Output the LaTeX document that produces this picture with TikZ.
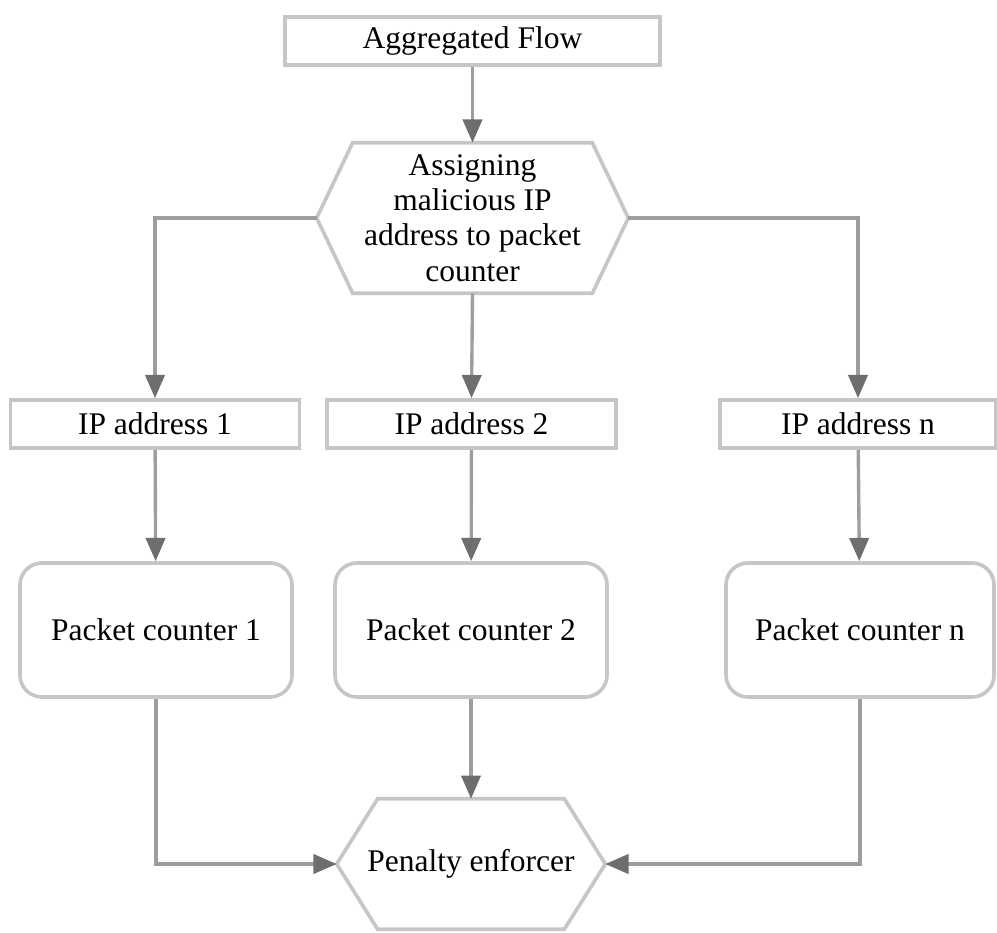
\documentclass[tikz,border=0pt]{standalone}
\usepackage{fontspec}
\setmainfont{Liberation Serif}
\usetikzlibrary{arrows.meta,positioning}
\definecolor{boxgray}{HTML}{C6C6C6}
\definecolor{linegray}{HTML}{9E9E9E}
\definecolor{tipgray}{HTML}{6E6E6E}

\begin{document}
\begin{tikzpicture}[
    x=0.025cm, y=-0.025cm,
    font=\fontsize{22.4}{25}\selectfont,
    box/.style={rectangle, draw=boxgray, line width=2.6pt, align=center, minimum height=1.2cm, inner sep=0pt},
    counter/.style={rectangle, rounded corners=0.55cm, draw=boxgray, line width=2.6pt, align=center, minimum height=3.35cm, inner sep=0pt},
    hexa/.style={rectangle, align=center, inner sep=0pt},
    hexline/.style={draw=boxgray, line width=2.6pt},
    arrow/.style={-{Triangle[length=0.58cm, width=0.48cm, color=tipgray]}, draw=linegray, line width=2.4pt}
]
\useasboundingbox (0,0) rectangle (997,932);

\node[box, minimum width=9.375cm] (flow) at (472.5,41) {Aggregated Flow};
\node[hexa, minimum width=7.775cm, minimum height=3.75cm] (assign) at (472.5,218) {Assigning\\malicious IP\\address to packet\\counter};
\draw[hexline] ([xshift=0.9cm]assign.north west) -- ([xshift=-0.9cm]assign.north east) -- (assign.east)
    -- ([xshift=-0.9cm]assign.south east) -- ([xshift=0.9cm]assign.south west) -- (assign.west) -- cycle;

\node[box, minimum width=7.225cm] (ip1) at (155,424) {IP address 1};
\node[box, minimum width=7.225cm] (ip2) at (471.5,424) {IP address 2};
\node[box, minimum width=6.9cm] (ipn) at (858,424) {IP address n};

\node[counter, minimum width=6.8cm] (pc1) at (156,630) {Packet counter 1};
\node[counter, minimum width=6.8cm] (pc2) at (471,630) {Packet counter 2};
\node[counter, minimum width=6.7cm] (pcn) at (860,630) {Packet counter n};

\node[hexa, minimum width=6.7cm, minimum height=3.25cm] (pen) at (471,864) {Penalty enforcer};
\draw[hexline] ([xshift=1.025cm]pen.north west) -- ([xshift=-1.025cm]pen.north east) -- (pen.east)
    -- ([xshift=-1.025cm]pen.south east) -- ([xshift=1.025cm]pen.south west) -- (pen.west) -- cycle;

\draw[arrow] (flow) -- (assign);
\draw[arrow] (assign.west) -| (ip1.north);
\draw[arrow] (assign.south) -- (ip2.north);
\draw[arrow] (assign.east) -| (ipn.north);
\draw[arrow] (ip1) -- (pc1);
\draw[arrow] (ip2) -- (pc2);
\draw[arrow] (ipn) -- (pcn);
\draw[arrow] (pc1.south) |- (pen.west);
\draw[arrow] (pc2.south) -- (pen.north);
\draw[arrow] (pcn.south) |- (pen.east);
\end{tikzpicture}
\end{document}
